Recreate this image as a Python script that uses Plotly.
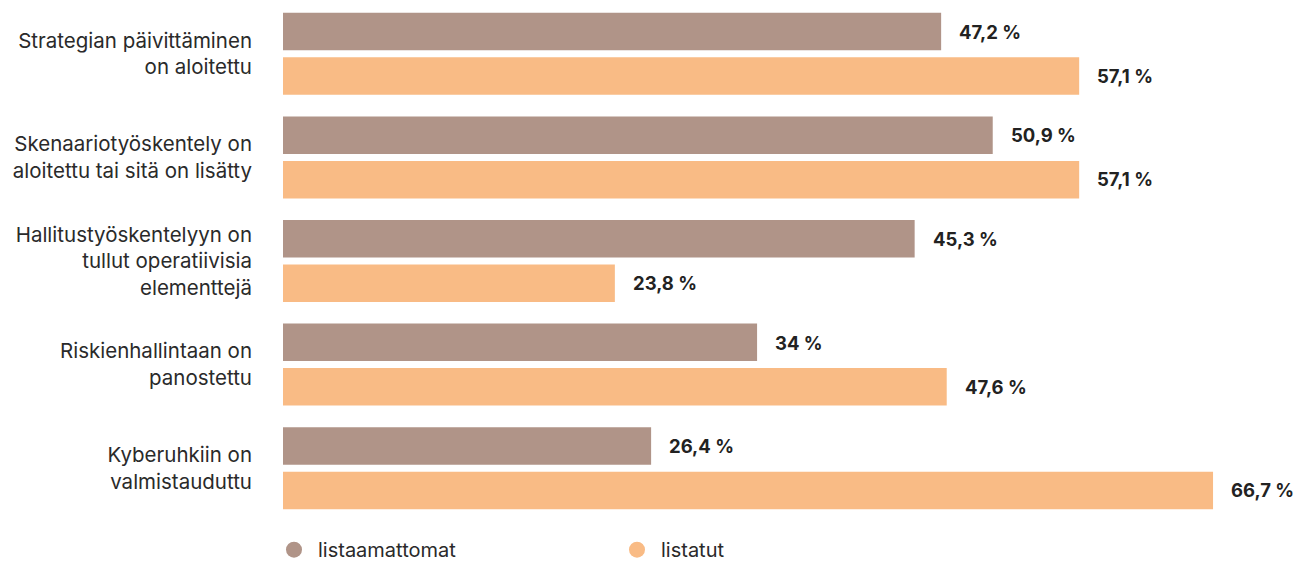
import plotly.graph_objects as go

categories = [
    "Strategian päivittäminen<br>on aloitettu",
    "Skenaariotyöskentely on<br>aloitettu tai sitä on lisätty",
    "Hallitustyöskentelyyn on<br>tullut operatiivisia<br>elementtejä",
    "Riskienhallintaan on<br>panostettu",
    "Kyberuhkiin on<br>valmistauduttu",
]
listaamattomat = [47.2, 50.9, 45.3, 34, 26.4]
listatut = [57.1, 57.1, 23.8, 47.6, 66.7]
series_names = ["listaamattomat", "listatut"]
colors = ["#B09488", "#F9BB85"]

FONT = "Inter, Roboto, sans-serif"
fig = go.Figure()
for name, vals, col in zip(series_names, [listaamattomat, listatut], colors):
    fig.add_trace(go.Bar(
        y=categories, x=vals, orientation="h", name=name,
        marker=dict(color=col, line=dict(width=0)),
        showlegend=False, hoverinfo="skip",
    ))
    # legend proxies with circle markers
    fig.add_trace(go.Scatter(
        x=[None], y=[None], mode="markers", name=name,
        marker=dict(color=col, size=16, symbol="circle"),
        showlegend=True,
    ))

# value labels
for i, (a, b) in enumerate(zip(listaamattomat, listatut)):
    for j, v in enumerate([a, b]):
        txt = (f"{v:g}".replace(".", ",")) + " %"
        fig.add_annotation(
            x=v, y=categories[i], xref="x", yref="y",
            text=f"<b>{txt}</b>", showarrow=False,
            xanchor="left", xshift=16, yshift=22 if j == 0 else -22,
            font=dict(family=FONT, size=18.5, color="#222222"),
        )

fig.update_layout(
    width=1295, height=562,
    margin=dict(l=283, r=22, t=2, b=42),
    paper_bgcolor="white", plot_bgcolor="white",
    barmode="group", bargap=0.141, bargroupgap=0.157,
    font=dict(family=FONT, size=20.5, color="#2a2a2a"),
    xaxis=dict(range=[0, 71], visible=False, fixedrange=True),
    yaxis=dict(autorange="reversed", showgrid=False, zeroline=False,
               showline=False, ticks="", ticklabelstandoff=30,
               tickfont=dict(family=FONT, size=20.5, color="#2a2a2a")),
    legend=dict(orientation="h", x=270 / 1295, xref="container", xanchor="left",
                y=0.022, yref="container", yanchor="middle",
                entrywidth=290, entrywidthmode="pixels", itemwidth=38,
                font=dict(family=FONT, size=20, color="#2a2a2a"),
                bgcolor="rgba(0,0,0,0)"),
)
fig.write_html("out.html")
